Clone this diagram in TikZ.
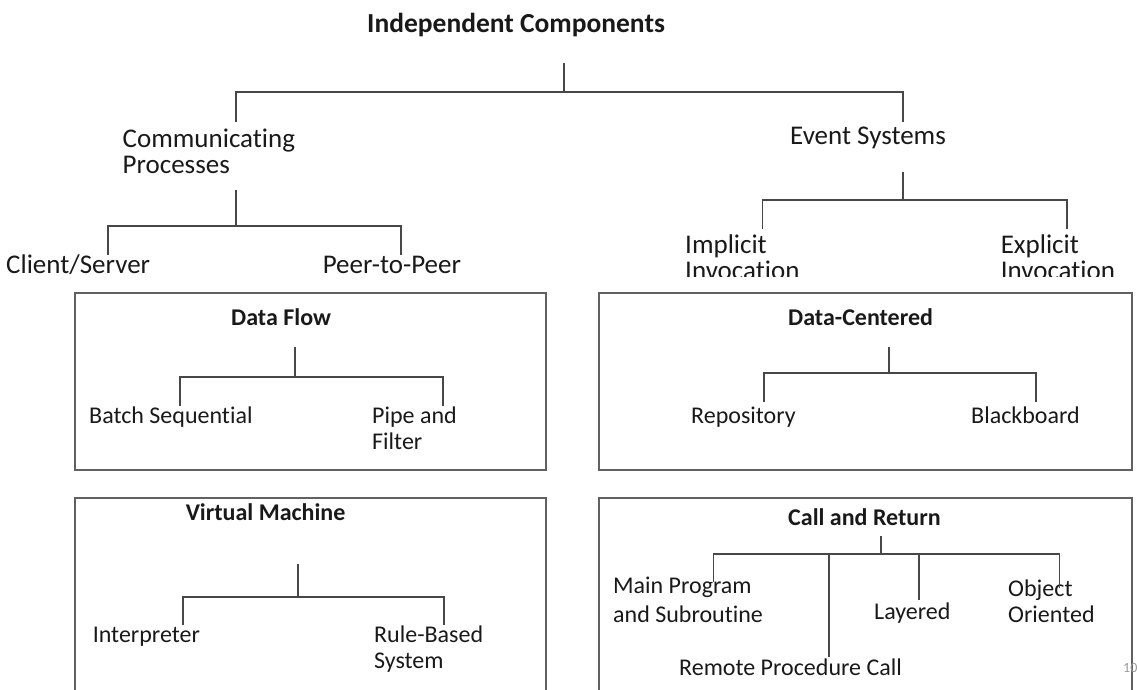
\documentclass[tikz,border=0pt]{standalone}
\usepackage{fontspec}
\setmainfont{Carlito}[Ligatures=NoCommon]
\usepackage{tikz}

\tikzset{
	big/.style={font=\fontsize{27}{26}\selectfont, anchor=base west, inner sep=0pt, align=left, text=black!90},
	small/.style={font=\fontsize{24}{26}\selectfont, anchor=base west, inner sep=0pt, align=left, text=black!90},
	heading/.style={font=\bfseries\fontsize{27.5}{26}\selectfont, anchor=base west, inner sep=0pt, text=black!90},
	boxtitle/.style={font=\bfseries\fontsize{24}{26}\selectfont, anchor=base west, inner sep=0pt, text=black!90},
	link/.style={draw=black!72, line width=1.6pt},
	frame/.style={draw=black!62, line width=2pt},
}

\begin{document}
\begin{tikzpicture}[x=1pt, y=-1pt]
	\useasboundingbox (0,0) rectangle (1137,690);

	% top level
	\node[heading] (ic) at (367,33) {Independent Components};
	\node[big] (cp) at (122.5,173) {Communicating\\Processes};
	\node[big] (es) at (790,145) {Event Systems};
	\node[big] (cs) at (6,273) {Client/Server};
	\node[big] (pp) at (322.6,273) {Peer-to-Peer};
	\begin{scope}
		\clip (600,230) rectangle (1137,276);
		\node[big] (ii) at (685,279) {Implicit\\Invocation};
		\node[big] (ei) at (1000.6,279) {Explicit\\Invocation};
	\end{scope}

	\coordinate (ic-stem) at (564,63);
	\coordinate (ic-bar) at (564,92);
	\coordinate (cp-in) at (236,122);
	\coordinate (es-in) at (903,122);
	\draw[link] (ic-stem) -- (ic-bar);
	\draw[link] (cp-in) |- (ic-bar) -| (es-in);

	\coordinate (cp-stem) at (236,190);
	\coordinate (cp-bar) at (236,226);
	\coordinate (cs-in) at (108,255);
	\coordinate (pp-in) at (400.7,255);
	\draw[link] (cp-stem) -- (cp-bar);
	\draw[link] (cs-in) |- (cp-bar) -| (pp-in);

	\coordinate (es-stem) at (903,172);
	\coordinate (es-bar) at (903,200);
	\coordinate (ii-in) at (762.4,229);
	\coordinate (ei-in) at (1066.8,229);
	\draw[link] (es-stem) -- (es-bar);
	\draw[link] (ii-in) |- (es-bar) -| (ei-in);

	% data flow
	\draw[frame] (75,293) rectangle (546,470);
	\node[boxtitle] (df) at (231,325) {Data Flow};
	\node[small] (bs) at (89,423) {Batch Sequential};
	\node[small] (pf) at (372,449) {Pipe and\\Filter};
	\coordinate (df-stem) at (295,347);
	\coordinate (df-bar) at (295,377);
	\coordinate (bs-in) at (180,406);
	\coordinate (pf-in) at (443,406);
	\draw[link] (df-stem) -- (df-bar);
	\draw[link] (bs-in) |- (df-bar) -| (pf-in);

	% data-centered
	\draw[frame] (599,293) rectangle (1132,470);
	\node[boxtitle] (dc) at (788,325) {Data-Centered};
	\node[small] (re) at (691,423) {Repository};
	\node[small] (bb) at (971,423) {Blackboard};
	\coordinate (dc-stem) at (889,347);
	\coordinate (dc-bar) at (889,373);
	\coordinate (re-in) at (763.7,402);
	\coordinate (bb-in) at (1035.8,402);
	\draw[link] (dc-stem) -- (dc-bar);
	\draw[link] (re-in) |- (dc-bar) -| (bb-in);

	% virtual machine
	\draw[frame] (75,690) -- (75,498) -- (546,498) -- (546,690);
	\node[boxtitle] (vm) at (185.6,520) {Virtual Machine};
	\node[small] (ip) at (92.6,642) {Interpreter};
	\node[small] (rb) at (374,668) {Rule-Based\\System};
	\coordinate (vm-stem) at (297.7,564);
	\coordinate (vm-bar) at (297.7,597);
	\coordinate (ip-in) at (183,625);
	\coordinate (rb-in) at (444,625);
	\draw[link] (vm-stem) -- (vm-bar);
	\draw[link] (ip-in) |- (vm-bar) -| (rb-in);

	% call and return
	\draw[frame] (599,690) -- (599,498) -- (1132,498) -- (1132,690);
	\node[boxtitle] (cr) at (788,525) {Call and Return};
	\node[small] (mp) at (613,622) {Main Program\\[3pt]and Subroutine};
	\node[small] (la) at (874,619) {Layered};
	\node[small] (oo) at (1008,622) {Object\\Oriented};
	\node[small] (rp) at (679,675) {Remote Procedure Call};
	\coordinate (cr-stem) at (881,536);
	\coordinate (cr-bar) at (881,554);
	\coordinate (mp-in) at (713.6,582);
	\coordinate (rp-in) at (829,657);
	\coordinate (la-in) at (919,600);
	\coordinate (oo-in) at (1059.6,588);
	\draw[link] (cr-stem) -- (cr-bar);
	\draw[link] (mp-in) |- (cr-bar) -| (oo-in);
	\draw[link] (rp-in) -- (rp-in |- cr-bar);
	\draw[link] (la-in) -- (la-in |- cr-bar);

	\begin{scope}
		\clip (1100,650) rectangle (1137,690);
		\node[font=\fontsize{14}{14}\selectfont, anchor=base west, inner sep=0pt, text=black!40] (pg) at (1123,672) {10};
	\end{scope}
\end{tikzpicture}
\end{document}
